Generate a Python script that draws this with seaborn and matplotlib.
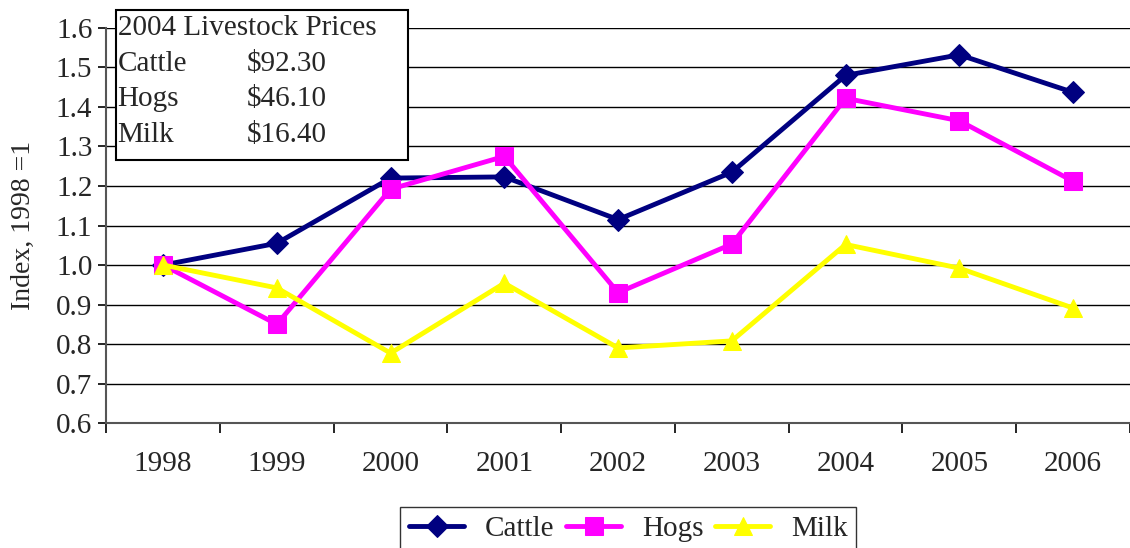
import numpy as np
import pandas as pd
import matplotlib
matplotlib.use('Agg')
import matplotlib.pyplot as plt
from matplotlib.ticker import FixedLocator
import seaborn as sns

# Data
years = ['1998', '1999', '2000', '2001', '2002', '2003', '2004', '2005', '2006']
cattle = [1.00, 1.055, 1.220, 1.223, 1.115, 1.235, 1.480, 1.532, 1.437]
hogs = [1.00, 0.850, 1.192, 1.275, 0.930, 1.053, 1.422, 1.365, 1.212]
milk = [1.00, 0.942, 0.777, 0.954, 0.790, 0.808, 1.052, 0.992, 0.891]
series_names = ['Cattle', 'Hogs', 'Milk']
box_title = '2004 Livestock Prices'
box_prices = ['$92.30', '$46.10', '$16.40']

colors = {'Cattle': '#000080', 'Hogs': '#FF00FF', 'Milk': '#FFFF00'}
markers = {'Cattle': 'D', 'Hogs': 's', 'Milk': '^'}
msizes = {'Cattle': 11, 'Hogs': 12.5, 'Milk': 13}

sns.set_style('white')
plt.rcParams['font.family'] = ['Liberation Serif', 'DejaVu Serif']
fs = 21

df = pd.DataFrame({'pos': np.arange(len(years)), 'Cattle': cattle,
                   'Hogs': hogs, 'Milk': milk})

fig = plt.figure(figsize=(11.3, 5.48), dpi=100)
ax = fig.add_axes([0.094, 0.228, 0.906, 0.721])

for name in series_names:
    sns.lineplot(data=df, x='pos', y=name, ax=ax, color=colors[name],
                 marker=markers[name], markersize=msizes[name],
                 markeredgecolor=colors[name], linewidth=3.5, label=name)

ax.set_xlim(-0.5, len(years) - 0.5)
ax.set_ylim(0.6, 1.6)
ax.set_yticks(np.arange(0.6, 1.61, 0.1))
ax.set_yticklabels([f'{v:.1f}' for v in np.arange(0.6, 1.61, 0.1)], fontsize=fs)
ax.set_xticks(np.arange(len(years)))
ax.set_xticklabels(years, fontsize=fs)
ax.xaxis.set_minor_locator(FixedLocator(np.arange(-0.5, len(years), 1.0)))
ax.tick_params(axis='x', which='major', length=0, pad=20)
ax.tick_params(axis='x', which='minor', length=7, width=1.2, color='black',
               direction='out', bottom=True)
ax.tick_params(axis='y', length=6, width=1.2, color='black', direction='out',
               left=True, pad=4)
ax.grid(axis='y', color='black', linewidth=1)
ax.set_axisbelow(True)
ax.set_xlabel('')
ax.set_ylabel('Index, 1998 =1', fontsize=20, labelpad=14)
for s in ['top', 'right']:
    ax.spines[s].set_visible(False)
for s in ['left', 'bottom']:
    ax.spines[s].set_color('#555555')
    ax.spines[s].set_linewidth(1.5)

handles, labels = ax.get_legend_handles_labels()
ax.get_legend().remove()
leg = fig.legend(handles, labels, loc='upper center',
                 bbox_to_anchor=(0.556, 0.075), ncol=3, frameon=True,
                 fancybox=False, edgecolor='black', fontsize=fs,
                 handlelength=1.9, handletextpad=0.7, columnspacing=0.4,
                 borderpad=0.3, borderaxespad=0)
leg.get_frame().set_linewidth(1)

# Text box with 2004 prices
box = plt.Rectangle((0.103, 0.708), 0.258, 0.273, transform=fig.transFigure,
                    facecolor='white', edgecolor='black', linewidth=1.5,
                    zorder=5)
fig.patches.append(box)
fig.text(0.104, 0.948, box_title, fontsize=fs, va='center', zorder=6)
for i, (name, price) in enumerate(zip(series_names, box_prices)):
    y = 0.884 - i * 0.065
    fig.text(0.104, y, name, fontsize=fs, va='center', zorder=6)
    fig.text(0.218, y, price, fontsize=fs, va='center', zorder=6)

plt.savefig('out.png', dpi=100)
